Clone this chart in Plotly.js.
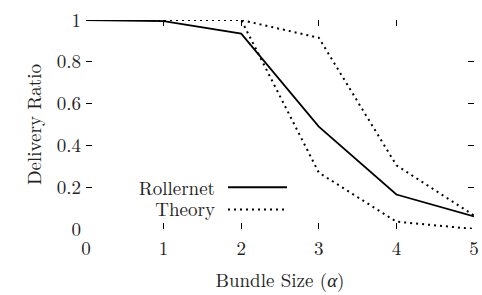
<!DOCTYPE html>
<html>
<head>
<meta charset="utf-8">
<script src="https://cdn.plot.ly/plotly-3.0.1.min.js"></script>
<style>html,body{margin:0;padding:0;background:#fff;}#chart{width:482px;height:295px;}</style>
</head>
<body>
<div id="chart"></div>
<script>
const bundleSize = [0, 1, 2, 3, 4, 5];
const rollernet = [1.0, 0.995, 0.935, 0.49, 0.165, 0.06];
const theoryUpper = [1.0, 1.0, 1.0, 0.915, 0.305, 0.065];
const theoryLower = [1.0, 1.0, 1.0, 0.27, 0.035, 0.0];
const seriesNames = ['Rollernet', 'Theory'];
const xTicks = [0, 1, 2, 3, 4, 5];
const yTicks = [0, 0.2, 0.4, 0.6, 0.8, 1];
const yTickText = ['0', '0.2', '0.4', '0.6', '0.8', '1'];

const FONT = 'Latin Modern Roman';
const FS = 19;
const TXT = '#222';
const dotDash = '2px,4px';

// legend row positions (paper fractions of the plot area)
const legendRowY = [(228.5 - 188) / 208, (228.5 - 209) / 208];
const legendTextRight = (215 - 86) / 388;
const legendX0 = (228 - 86) / 388, legendX1 = (287 - 86) / 388;

const traces = [
  {x: bundleSize, y: rollernet, name: seriesNames[0], mode: 'lines',
   line: {color: '#000', width: 1.8}, showlegend: false},
  {x: bundleSize, y: theoryUpper, name: seriesNames[1], mode: 'lines',
   line: {color: '#000', width: 2, dash: dotDash}, showlegend: false},
  {x: bundleSize, y: theoryLower, name: seriesNames[1], mode: 'lines',
   line: {color: '#000', width: 2, dash: dotDash}, showlegend: false},
  // invisible helper so the legend-label axis is drawn
  {x: [0], y: [null], yaxis: 'y2', mode: 'lines', showlegend: false, hoverinfo: 'skip'}
];

const axisCommon = {
  showgrid: false, zeroline: false, showline: false,
  ticks: 'inside', ticklen: 6, tickwidth: 1, tickcolor: '#000',
  mirror: 'ticks', tickfont: {family: FONT, size: FS, color: TXT}
};

const layout = {
  width: 482, height: 295,
  margin: {l: 86, r: 8, t: 20, b: 66},
  paper_bgcolor: '#fff', plot_bgcolor: '#fff',
  font: {family: FONT, color: TXT},
  xaxis: Object.assign({}, axisCommon, {
    range: [0, 5], tickvals: xTicks, ticktext: xTicks.map(String),
    ticklabelstandoff: 6,
    title: {text: 'Bundle Size (<i>α</i>)', font: {family: FONT, size: FS, color: TXT}, standoff: 13}
  }),
  yaxis: Object.assign({}, axisCommon, {
    range: [0, 1], tickvals: yTicks, ticktext: yTickText,
    ticklabelstandoff: 4,
    title: {text: 'Delivery Ratio', font: {family: FONT, size: FS, color: TXT}, standoff: 10}
  }),
  yaxis2: {
    overlaying: 'y', anchor: 'free', position: legendTextRight, side: 'left',
    range: [0, 1], tickvals: legendRowY, ticktext: seriesNames,
    showgrid: false, zeroline: false, showline: false, ticks: '',
    tickfont: {family: FONT, size: FS, color: TXT}
  },
  shapes: [
    {type: 'line', xref: 'paper', yref: 'paper', x0: legendX0, x1: legendX1,
     y0: legendRowY[0] + 0.005, y1: legendRowY[0] + 0.005, line: {color: '#000', width: 1.8}},
    {type: 'line', xref: 'paper', yref: 'paper', x0: legendX0, x1: legendX1,
     y0: legendRowY[1], y1: legendRowY[1], line: {color: '#000', width: 2, dash: dotDash}}
  ]
};

const config = {displayModeBar: false, staticPlot: true};
Plotly.newPlot('chart', traces, layout, config);
if (document.fonts && document.fonts.load) {
  document.fonts.load(FS + 'px "' + FONT + '"').then(function () {
    Plotly.react('chart', traces, Object.assign({}, layout, {datarevision: 1}), config);
  }).catch(function () {});
}
</script>
</body>
</html>
